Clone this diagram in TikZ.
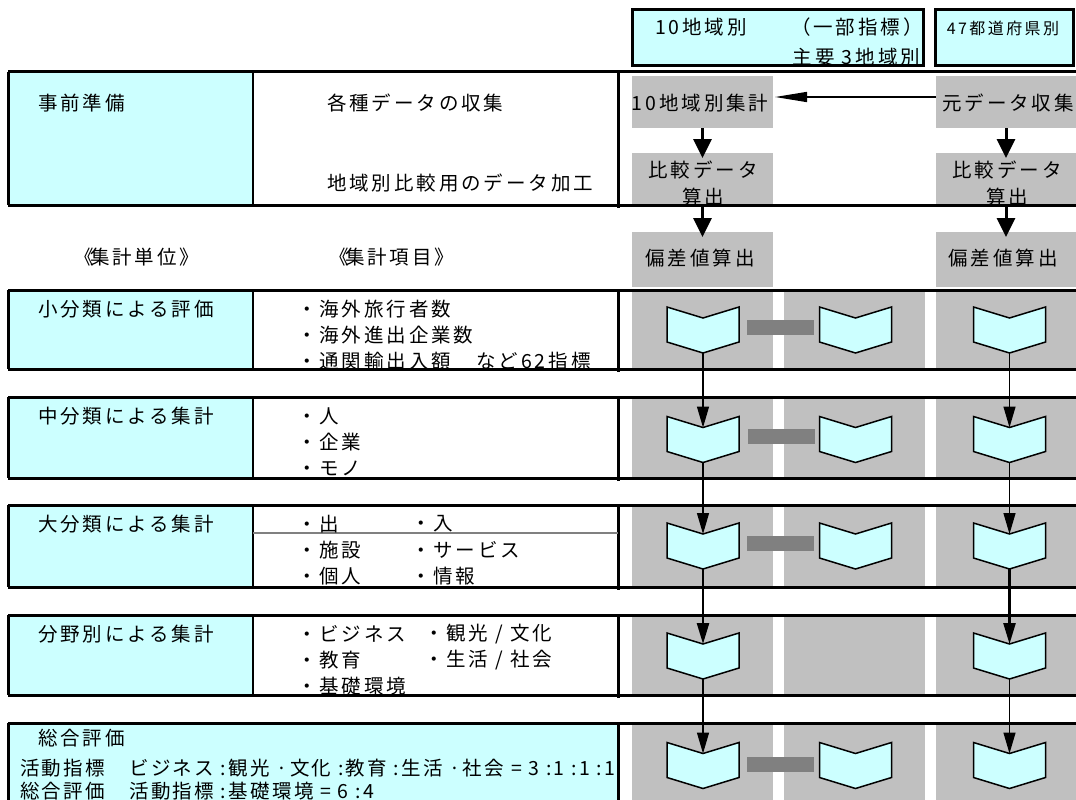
\documentclass[tikz,border=0pt]{standalone}
\usepackage{fontspec}
\setmainfont{Noto Sans CJK JP}[LetterSpace=15]
\usetikzlibrary{arrows.meta}
\definecolor{cyanf}{RGB}{204,255,255}
\definecolor{grayb}{RGB}{192,192,192}
\definecolor{grayd}{RGB}{128,128,128}
\newcommand\chev[3]{%
  \draw[chevst] (#1-36,#2-23) -- (#1,#2-12) -- (#1+36,#2-23) -- (#1+36,#2+12) -- (#1,#2+23) -- (#1-36,#2+12) -- cycle;
  \coordinate (#3n) at (#1,#2-12);
  \coordinate (#3s) at (#1,#2+23);}
\begin{document}
\begin{tikzpicture}[x=1pt,y=-1pt,
  every node/.style={inner sep=0pt,outer sep=0pt},
  txt/.style={font=\fontsize{19.5}{27}\selectfont,anchor=west},
  ctxt/.style={font=\fontsize{19.5}{27}\selectfont,align=center},
  gblk/.style={fill=grayb,draw=none,anchor=north west},
  gcon/.style={fill=grayd,draw=none,minimum width=67pt,minimum height=15pt},
  rowline/.style={line width=3pt},
  hbox/.style={fill=cyanf,draw=black,line width=3pt,anchor=north west},
  chevst/.style={fill=cyanf,draw=black,line width=1.5pt,line join=miter},
  bigarrow/.style={line width=3pt,-{Triangle[length=19pt,width=18pt]}},
  flowarrow/.style={line width=1.3pt,-{Triangle[length=21pt,width=12pt]}},
  harrow/.style={line width=1.5pt,-{Triangle[length=32pt,width=10pt]}}]
\useasboundingbox (0,0) rectangle (1076,800);
% header boxes
\node[hbox,minimum width=291pt,minimum height=56pt] (h1) at (632,10) {};
\node[hbox,minimum width=138pt,minimum height=56pt] (h2) at (935,10) {};
\node[txt] (h1a) at (655,27) {10地域別};
\node[txt] (h1b) at (791,27) {（一部指標）};
\node[txt,anchor=east] (h1c) at (920,57) {主要 3地域別};
\node[font=\fontsize{16}{20}\selectfont] (h2a) at (1003,28) {47都道府県別};
% gray blocks row 1
\node[gblk,minimum width=141pt,minimum height=52pt] (k1) at (632,76) {};
\node[gblk,minimum width=140pt,minimum height=52pt] (k2) at (936,76) {};
\node[gblk,minimum width=141pt,minimum height=52pt] (m1) at (632,153) {};
\node[gblk,minimum width=140pt,minimum height=52pt] (m2) at (936,153) {};
\node[gblk,minimum width=141pt,minimum height=55pt] (d1) at (632,232) {};
\node[gblk,minimum width=140pt,minimum height=55pt] (d2) at (936,232) {};
% gray column blocks rows 2-6
\foreach \t/\h [count=\i] in {290/79,397/81,505/82,615/80,723/80}{
  \node[gblk,minimum width=141pt,minimum height=\h pt] (ga\i) at (632,\t) {};
  \node[gblk,minimum width=141pt,minimum height=\h pt] (gb\i) at (784,\t) {};
  \node[gblk,minimum width=140pt,minimum height=\h pt] (gc\i) at (936,\t) {};
}
% rows with borders
\foreach \t/\b in {72/205,290/369,397/478,505/587,615/695}{
  \fill[cyanf] (8,\t) rectangle (253,\b);
  \draw[rowline] (8,\t) -- (1076,\t);
  \draw[rowline] (8,\b) -- (1076,\b);
  \draw[rowline] (8,\t) -- (8,\b);
  \draw[line width=2.5pt] (253,\t) -- (253,\b);
  \draw[rowline] (618,\t) -- (618,\b+3);
}
\fill[cyanf] (8,723) rectangle (618,802);
\draw[rowline] (8,723) -- (1076,723);
\draw[rowline] (8,723) -- (8,802);
\draw[rowline] (618,723) -- (618,802);
\draw[grayd,line width=2pt] (253,533) -- (618,533);
% row 1 texts
\node[txt] (t1) at (38,103) {事前準備};
\node[txt] (t1a) at (327,103) {各種データの収集};
\node[txt] (t1b) at (327,183) {地域別比較用のデータ加工};
\node[ctxt] (k1t) at (700,103) {10地域別集計};
\node[ctxt] (k2t) at (1008,103) {元データ収集};
\node[ctxt] (m1t) at (703,170) {比較データ};
\node[ctxt] (m1u) at (703,197) {算出};
\node[ctxt] (m2t) at (1007,170) {比較データ};
\node[ctxt] (m2u) at (1007,197) {算出};
\node[ctxt] (d1t) at (700,258) {偏差値算出};
\node[ctxt] (d2t) at (1003,258) {偏差値算出};
\node[ctxt] (u1) at (137,257) {《\kern-4pt 集計単位》};
\node[ctxt] (u2) at (392,257) {《\kern-4pt 集計項目》};
% arrows row 1
\draw[harrow] ([yshift=5pt]k2.west) -- ([yshift=5pt,xshift=2pt]k1.east);
\draw[bigarrow] (k1.south) -- ([yshift=-5pt]m1.north);
\draw[bigarrow] (k2.south) -- ([yshift=-5pt]m2.north);
\draw[bigarrow] (m1.south) -- ([yshift=-5pt]d1.north);
\draw[bigarrow] (m2.south) -- ([yshift=-5pt]d2.north);
% row labels and items
\node[txt] (l2) at (38,309) {小分類による評価};
\node[txt] (i21) at (297,309) {・海外旅行者数};
\node[txt] (i22) at (297,335) {・海外進出企業数};
\node[txt] (i23) at (297,361) {・通関輸出入額　など62指標};
\node[txt] (l3) at (38,416) {中分類による集計};
\node[txt] (i31) at (297,416) {・人};
\node[txt] (i32) at (297,442) {・企業};
\node[txt] (i33) at (297,468) {・モノ};
\node[txt] (l4) at (38,524) {大分類による集計};
\node[txt] (i41) at (297,524) {・出};
\node[txt] (i42) at (411,524) {・入};
\node[txt] (i43) at (297,550) {・施設};
\node[txt] (i44) at (411,550) {・サービス};
\node[txt] (i45) at (297,576) {・個人};
\node[txt] (i46) at (411,576) {・情報};
\node[txt] (l5) at (38,634) {分野別による集計};
\node[txt] (i51) at (297,634) {・ビジネス};
\node[txt] (i52) at (424,634) {・観光 / 文化};
\node[txt] (i53) at (297,660) {・教育};
\node[txt] (i54) at (424,660) {・生活 / 社会};
\node[txt] (i55) at (297,686) {・基礎環境};
\node[txt] (l6) at (38,738) {総合評価};
\node[txt] (l6a) at (20,768) {\addfontfeature{LetterSpace=12}活動指標　ビジネス :観光 ·文化 :教育 :生活 ·社会 = 3 :1 :1 :1};
\node[txt] (l6b) at (20,791) {\addfontfeature{LetterSpace=12}総合評価　活動指標 :基礎環境 = 6 :4};
% connectors between chevrons (gray bars)
\node[gcon] (g2) at (780,327.5) {};
\node[gcon] (g3) at (781,436) {};
\node[gcon] (g4) at (780,543.5) {};
\node[gcon] (g6) at (780,764.5) {};
% chevrons
\chev{703}{330}{a2}\chev{855.5}{330}{b2}\chev{1009.5}{330}{c2}
\chev{703}{439.5}{a3}\chev{855.5}{439.5}{b3}\chev{1009.5}{439.5}{c3}
\chev{703}{546}{a4}\chev{855.5}{546}{b4}\chev{1009.5}{546}{c4}
\chev{703}{656}{a5}\chev{1009.5}{656}{c5}
\chev{703}{765.5}{a6}\chev{855.5}{765.5}{b6}\chev{1009.5}{765.5}{c6}
% flow arrows
\draw[flowarrow] (a2s) -- (a3n);
\draw[flowarrow] (c2s) -- (c3n);
\draw[flowarrow] (a3s) -- (a4n);
\draw[flowarrow] (c3s) -- (c4n);
\draw[flowarrow,line width=2.5pt] (a4s) -- (a5n);
\draw[flowarrow,line width=2.5pt] (c4s) -- (c5n);
\draw[flowarrow] (a5s) -- (a6n);
\draw[flowarrow] (c5s) -- (c6n);
\end{tikzpicture}
\end{document}
